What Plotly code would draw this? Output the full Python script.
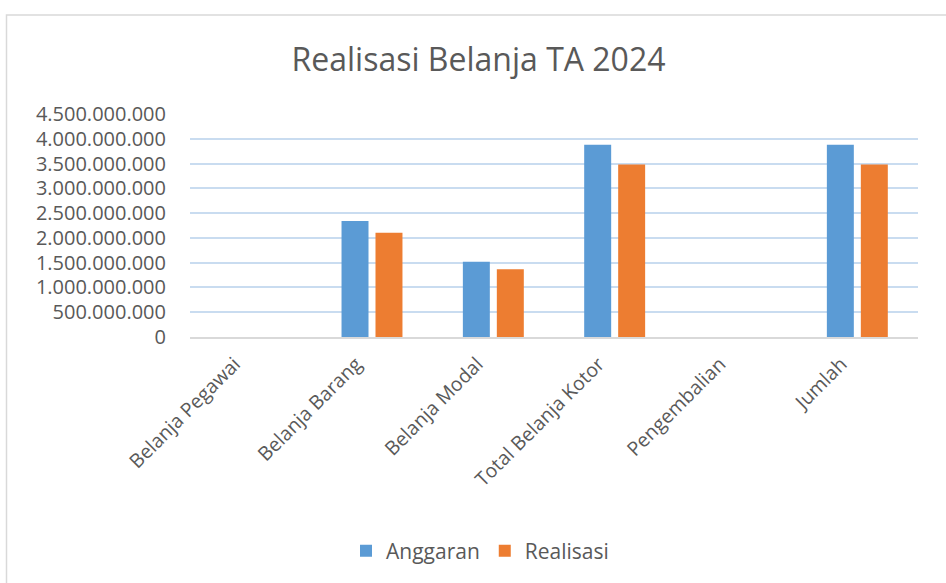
import plotly.graph_objects as go

categories = ["Belanja Pegawai", "Belanja Barang", "Belanja Modal",
              "Total Belanja Kotor", "Pengembalian", "Jumlah"]
anggaran = [0, 2339000000, 1520000000, 3879000000, 0, 3879000000]
realisasi = [0, 2105000000, 1365000000, 3482000000, 0, 3482000000]
y_ticks = [0, 500000000, 1000000000, 1500000000, 2000000000, 2500000000,
           3000000000, 3500000000, 4000000000, 4500000000]

FONT = "Open Sans"
GRAY = "#595959"

L = 190
T = 113.5
PW = 728
PH = 223.2

fig = go.Figure()
fig.add_trace(go.Bar(name="Anggaran", x=categories, y=anggaran,
                     marker=dict(color="#5B9BD5", line=dict(width=0))))
fig.add_trace(go.Bar(name="Realisasi", x=categories, y=realisasi,
                     marker=dict(color="#ED7D31", line=dict(width=0))))

fig.update_layout(
    width=946, height=583,
    margin=dict(l=L, r=946 - L - PW, t=T, b=583 - T - PH, autoexpand=False),
    paper_bgcolor="white", plot_bgcolor="white",
    separators=",.",
    barmode="group", bargap=0.44, bargroupgap=0.206,
    title=dict(text="Realisasi Belanja TA 2024", x=478.5 / 946, xref="container",
               y=1 - 60 / 583, yref="container", xanchor="center", yanchor="middle",
               font=dict(family=FONT, size=32, color=GRAY)),
    legend=dict(orientation="h", xref="container", yref="container",
                x=480 / 946, y=1 - 551 / 583, xanchor="center", yanchor="middle",
                font=dict(family=FONT, size=21, color=GRAY), itemwidth=30),
    font=dict(family=FONT, color=GRAY),
    shapes=[dict(type="rect", xref="paper", yref="paper",
                 x0=(6.5 - 190) / PW, x1=2, y0=-3, y1=(336.7 - 14.5) / PH,
                 line=dict(color="#d9d9d9", width=1.5), fillcolor="rgba(0,0,0,0)",
                 layer="below")],
)
fig.update_yaxes(range=[0, 4500000000], tickvals=y_ticks, tickformat=",d",
                 showgrid=True, gridcolor="#c9dcf0", gridwidth=1.5,
                 zeroline=False, showline=False, ticks="",
                 ticklabelstandoff=23,
                 tickfont=dict(family=FONT, size=20, color=GRAY))
fig.update_xaxes(tickangle=-45, showline=True, linecolor="#d9d9d9", linewidth=2,
                 ticks="", ticklabelstandoff=6, ticklabelshift=-16,
                 tickfont=dict(family=FONT, size=19.5, color=GRAY))

fig.write_html("out.html", config={"displayModeBar": False},
               post_script="document.body.style.margin='0';document.body.style.overflow='hidden';")
